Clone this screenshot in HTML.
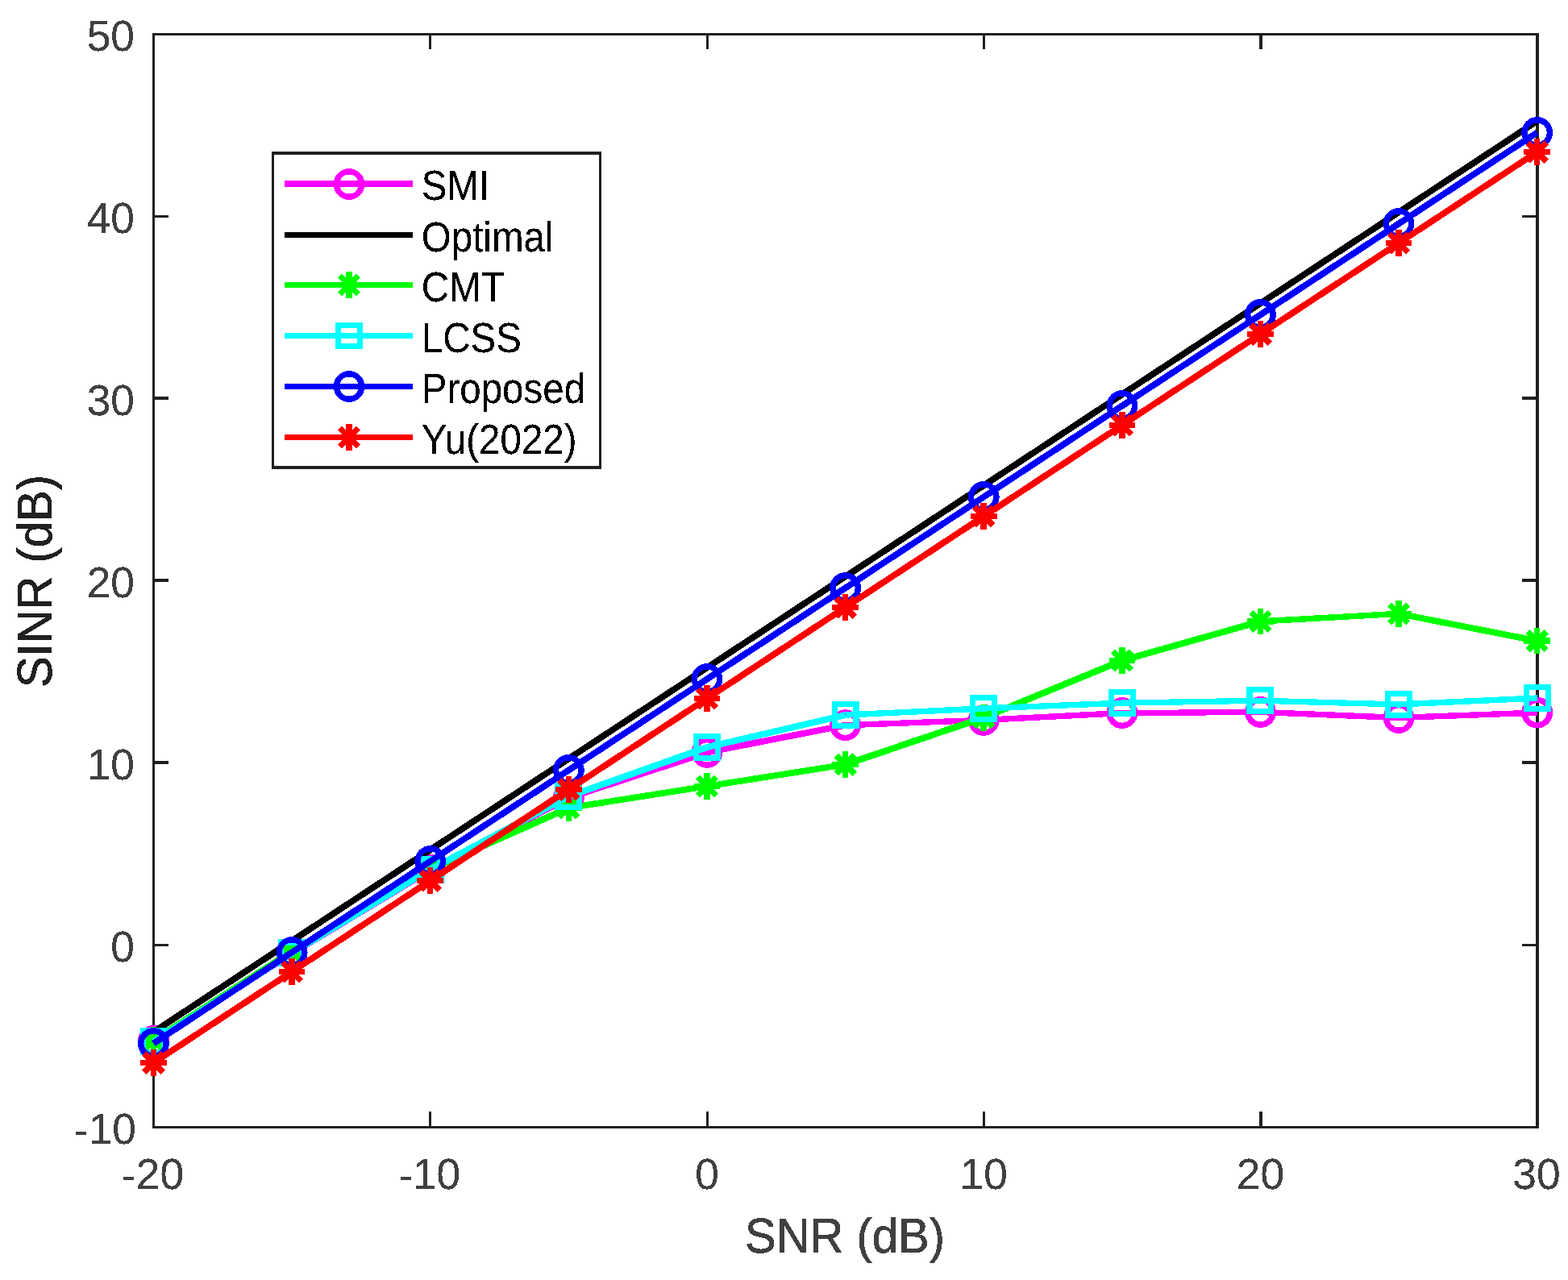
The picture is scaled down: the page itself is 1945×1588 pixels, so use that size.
<!DOCTYPE html>
<html lang="en">
<head>
<meta charset="utf-8">
<title>SINR versus SNR</title>
<style>
html,body{margin:0;padding:0;background:#fff;overflow:hidden;}
body{width:1945px;height:1588px;overflow:hidden;}
svg{display:block;}
text{font-family:"Liberation Sans",sans-serif;}
.tick{font-size:53.3px;fill:#404040;}
.lab{font-size:58px;fill:#404040;stroke:#404040;stroke-width:0.45px;stroke-linejoin:miter;}
.leg{font-size:47.5px;fill:#000;}
</style>
</head>
<body>
<svg width="1945" height="1588" viewBox="0 0 1945 1588">
<defs>
<filter id="hard" x="-5%" y="-20%" width="110%" height="140%" color-interpolation-filters="sRGB">
<feComponentTransfer><feFuncA type="discrete" tableValues="0 0 1 1 1"/></feComponentTransfer>
</filter>
</defs>
<rect x="0" y="0" width="1945" height="1588" fill="#ffffff"/>
<g fill="#202020" shape-rendering="crispEdges">
<rect x="189" y="41" width="1720" height="3"/>
<rect x="189" y="1397" width="1720" height="3"/>
<rect x="189" y="41" width="3" height="1359"/>
<rect x="1905" y="41" width="4" height="1359"/>
<rect x="532" y="1379" width="3" height="19"/>
<rect x="532" y="43" width="3" height="18"/>
<rect x="876" y="1379" width="3" height="19"/>
<rect x="876" y="43" width="3" height="18"/>
<rect x="1219" y="1379" width="3" height="19"/>
<rect x="1219" y="43" width="3" height="18"/>
<rect x="1562" y="1379" width="4" height="19"/>
<rect x="1562" y="43" width="4" height="18"/>
<rect x="191" y="267" width="18" height="3"/>
<rect x="1888" y="267" width="18" height="3"/>
<rect x="191" y="492" width="18" height="4"/>
<rect x="1888" y="492" width="18" height="4"/>
<rect x="191" y="718" width="18" height="4"/>
<rect x="1888" y="718" width="18" height="4"/>
<rect x="191" y="944" width="18" height="4"/>
<rect x="1888" y="944" width="18" height="4"/>
<rect x="191" y="1171" width="18" height="3"/>
<rect x="1888" y="1171" width="18" height="3"/>
</g>
<g class="tick" text-anchor="middle" filter="url(#hard)">
<text transform="translate(189.5 1475) scale(1 1.02)"><tspan dy="0.9">-</tspan><tspan dy="-0.9">20</tspan></text>
<text transform="translate(532.74 1475) scale(1 1.02)"><tspan dy="0.9">-</tspan><tspan dy="-0.9">10</tspan></text>
<text transform="translate(876.98 1475) scale(1 1.02)">0</text>
<text transform="translate(1220.22 1475) scale(1 1.02)">10</text>
<text transform="translate(1563.46 1475) scale(1 1.02)">20</text>
<text transform="translate(1905.9 1475) scale(1 1.02)">30</text>
</g>
<g class="tick" text-anchor="end" filter="url(#hard)">
<text transform="translate(169 1418.7) scale(1 1.02)"><tspan dy="0.9">-</tspan><tspan dy="-0.9">10</tspan></text>
<text transform="translate(167 1192.7) scale(1 1.02)">0</text>
<text transform="translate(167 966.7) scale(1 1.02)">10</text>
<text transform="translate(167 740.7) scale(1 1.02)">20</text>
<text transform="translate(167 514.7) scale(1 1.02)">30</text>
<text transform="translate(167 288.7) scale(1 1.02)">40</text>
<text transform="translate(167 62.7) scale(1 1.02)">50</text>
</g>
<g class="lab" text-anchor="middle" filter="url(#hard)">
<text transform="translate(1048 1554) scale(1 1.04)">SNR (dB)</text>
<text style="fill:#212121;stroke:#212121" transform="translate(64 721) rotate(-90) scale(1 1.04)">SINR (dB)</text>
</g>
<g shape-rendering="crispEdges" fill="none" stroke-linejoin="miter" stroke-linecap="butt">
<polyline points="190.5,1291.38 362.12,1182.9 533.74,1079.39" stroke="#ff00ff" stroke-width="7.98"/>
<polyline points="533.74,1079.39 705.36,989.67 876.98,933.39" stroke="#ff00ff" stroke-width="8.12"/>
<polyline points="876.98,933.39 1048.6,899.72" stroke="#ff00ff" stroke-width="7.91"/>
<polyline points="1048.6,899.72 1220.22,893.39" stroke="#ff00ff" stroke-width="7.37"/>
<polyline points="1220.22,893.39 1391.84,884.58" stroke="#ff00ff" stroke-width="7.43"/>
<polyline points="1391.84,884.58 1563.46,883.45" stroke="#ff00ff" stroke-width="7.23"/>
<polyline points="1563.46,883.45 1735.08,890.45 1906.7,884.12" stroke="#ff00ff" stroke-width="7.38"/>
<circle cx="190.5" cy="1291.38" r="15.7" stroke="#ff00ff" stroke-width="7.4"/>
<circle cx="362.12" cy="1182.9" r="15.7" stroke="#ff00ff" stroke-width="7.4"/>
<circle cx="533.74" cy="1079.39" r="15.7" stroke="#ff00ff" stroke-width="7.4"/>
<circle cx="705.36" cy="989.67" r="15.7" stroke="#ff00ff" stroke-width="7.4"/>
<circle cx="876.98" cy="933.39" r="15.7" stroke="#ff00ff" stroke-width="7.4"/>
<circle cx="1048.6" cy="899.72" r="15.7" stroke="#ff00ff" stroke-width="7.4"/>
<circle cx="1220.22" cy="893.39" r="15.7" stroke="#ff00ff" stroke-width="7.4"/>
<circle cx="1391.84" cy="884.58" r="15.7" stroke="#ff00ff" stroke-width="7.4"/>
<circle cx="1563.46" cy="883.45" r="15.7" stroke="#ff00ff" stroke-width="7.4"/>
<circle cx="1735.08" cy="890.45" r="15.7" stroke="#ff00ff" stroke-width="7.4"/>
<circle cx="1906.7" cy="884.12" r="15.7" stroke="#ff00ff" stroke-width="7.4"/>
<polyline points="190.5,1280.3 362.12,1167.3 533.74,1054.3 705.36,941.3 876.98,828.3 1048.6,715.3 1220.22,602.3 1391.84,489.3 1563.46,376.3 1735.08,263.3 1906.7,150.3" stroke="#000000" stroke-width="7.93"/>
<polyline points="190.5,1290.47 362.12,1180.18" stroke="#00ff00" stroke-width="7.96"/>
<polyline points="362.12,1180.18 533.74,1078.71" stroke="#00ff00" stroke-width="8.04"/>
<polyline points="533.74,1078.71 705.36,1002.32" stroke="#00ff00" stroke-width="8.16"/>
<polyline points="705.36,1002.32 876.98,975.43 1048.6,948.53" stroke="#00ff00" stroke-width="7.8"/>
<polyline points="1048.6,948.53 1220.22,890.23 1391.84,819.49" stroke="#00ff00" stroke-width="8.14"/>
<polyline points="1391.84,819.49 1563.46,770.9" stroke="#00ff00" stroke-width="8.08"/>
<polyline points="1563.46,770.9 1735.08,761.41" stroke="#00ff00" stroke-width="7.44"/>
<polyline points="1735.08,761.41 1906.7,795.08" stroke="#00ff00" stroke-width="7.91"/>
<path d="M174.2 1290.47H206.8M190.5 1274.17V1306.77M178.97 1278.95L202.03 1302M178.97 1302L202.03 1278.95" stroke="#00ff00" stroke-width="7.5"/>
<path d="M345.82 1180.18H378.42M362.12 1163.88V1196.48M350.59 1168.66L373.65 1191.71M350.59 1191.71L373.65 1168.66" stroke="#00ff00" stroke-width="7.5"/>
<path d="M517.44 1078.71H550.04M533.74 1062.41V1095.01M522.21 1067.18L545.27 1090.24M522.21 1090.24L545.27 1067.18" stroke="#00ff00" stroke-width="7.5"/>
<path d="M689.06 1002.32H721.66M705.36 986.02V1018.62M693.83 990.8L716.89 1013.85M693.83 1013.85L716.89 990.8" stroke="#00ff00" stroke-width="7.5"/>
<path d="M860.68 975.43H893.28M876.98 959.13V991.73M865.45 963.9L888.51 986.95M865.45 986.95L888.51 963.9" stroke="#00ff00" stroke-width="7.5"/>
<path d="M1032.3 948.53H1064.9M1048.6 932.23V964.83M1037.07 937.01L1060.13 960.06M1037.07 960.06L1060.13 937.01" stroke="#00ff00" stroke-width="7.5"/>
<path d="M1203.92 890.23H1236.52M1220.22 873.93V906.53M1208.69 878.7L1231.75 901.75M1208.69 901.75L1231.75 878.7" stroke="#00ff00" stroke-width="7.5"/>
<path d="M1375.54 819.49H1408.14M1391.84 803.19V835.79M1380.31 807.96L1403.37 831.01M1380.31 831.01L1403.37 807.96" stroke="#00ff00" stroke-width="7.5"/>
<path d="M1547.16 770.9H1579.76M1563.46 754.6V787.2M1551.93 759.37L1574.99 782.42M1551.93 782.42L1574.99 759.37" stroke="#00ff00" stroke-width="7.5"/>
<path d="M1718.78 761.41H1751.38M1735.08 745.11V777.71M1723.55 749.88L1746.61 772.93M1723.55 772.93L1746.61 749.88" stroke="#00ff00" stroke-width="7.5"/>
<path d="M1890.4 795.08H1923M1906.7 778.78V811.38M1895.17 783.55L1918.23 806.61M1895.17 806.61L1918.23 783.55" stroke="#00ff00" stroke-width="7.5"/>
<polyline points="190.5,1292.28 362.12,1182.44" stroke="#00ffff" stroke-width="7.96"/>
<polyline points="362.12,1182.44 533.74,1078.71" stroke="#00ffff" stroke-width="8.02"/>
<polyline points="533.74,1078.71 705.36,988.08 876.98,927.06" stroke="#00ffff" stroke-width="8.11"/>
<polyline points="876.98,927.06 1048.6,887.06" stroke="#00ffff" stroke-width="7.99"/>
<polyline points="1048.6,887.06 1220.22,878.93 1391.84,872.15" stroke="#00ffff" stroke-width="7.41"/>
<polyline points="1391.84,872.15 1563.46,869.21 1735.08,873.95" stroke="#00ffff" stroke-width="7.28"/>
<polyline points="1735.08,873.95 1906.7,866.04" stroke="#00ffff" stroke-width="7.41"/>
<rect x="177.1" y="1278.88" width="26.8" height="26.8" stroke="#00ffff" stroke-width="7.2"/>
<rect x="348.72" y="1169.04" width="26.8" height="26.8" stroke="#00ffff" stroke-width="7.2"/>
<rect x="520.34" y="1065.31" width="26.8" height="26.8" stroke="#00ffff" stroke-width="7.2"/>
<rect x="691.96" y="974.68" width="26.8" height="26.8" stroke="#00ffff" stroke-width="7.2"/>
<rect x="863.58" y="913.66" width="26.8" height="26.8" stroke="#00ffff" stroke-width="7.2"/>
<rect x="1035.2" y="873.66" width="26.8" height="26.8" stroke="#00ffff" stroke-width="7.2"/>
<rect x="1206.82" y="865.53" width="26.8" height="26.8" stroke="#00ffff" stroke-width="7.2"/>
<rect x="1378.44" y="858.75" width="26.8" height="26.8" stroke="#00ffff" stroke-width="7.2"/>
<rect x="1550.06" y="855.81" width="26.8" height="26.8" stroke="#00ffff" stroke-width="7.2"/>
<rect x="1721.68" y="860.55" width="26.8" height="26.8" stroke="#00ffff" stroke-width="7.2"/>
<rect x="1893.3" y="852.64" width="26.8" height="26.8" stroke="#00ffff" stroke-width="7.2"/>
<polyline points="190.5,1294.54 362.12,1181.54 533.74,1068.54 705.36,955.54 876.98,842.54 1048.6,729.54 1220.22,616.54 1391.84,503.54 1563.46,390.54 1735.08,277.54 1906.7,164.54" stroke="#0000ff" stroke-width="7.93"/>
<circle cx="190.5" cy="1294.54" r="15.7" stroke="#0000ff" stroke-width="7.4"/>
<circle cx="362.12" cy="1181.54" r="15.7" stroke="#0000ff" stroke-width="7.4"/>
<circle cx="533.74" cy="1068.54" r="15.7" stroke="#0000ff" stroke-width="7.4"/>
<circle cx="705.36" cy="955.54" r="15.7" stroke="#0000ff" stroke-width="7.4"/>
<circle cx="876.98" cy="842.54" r="15.7" stroke="#0000ff" stroke-width="7.4"/>
<circle cx="1048.6" cy="729.54" r="15.7" stroke="#0000ff" stroke-width="7.4"/>
<circle cx="1220.22" cy="616.54" r="15.7" stroke="#0000ff" stroke-width="7.4"/>
<circle cx="1391.84" cy="503.54" r="15.7" stroke="#0000ff" stroke-width="7.4"/>
<circle cx="1563.46" cy="390.54" r="15.7" stroke="#0000ff" stroke-width="7.4"/>
<circle cx="1735.08" cy="277.54" r="15.7" stroke="#0000ff" stroke-width="7.4"/>
<circle cx="1906.7" cy="164.54" r="15.7" stroke="#0000ff" stroke-width="7.4"/>
<polyline points="190.5,1318.5 362.12,1205.5 533.74,1092.5 705.36,979.5 876.98,866.5 1048.6,753.5 1220.22,640.5 1391.84,527.5 1563.46,414.5 1735.08,301.5 1906.7,188.5" stroke="#ff0000" stroke-width="7.93"/>
<path d="M174.2 1318.5H206.8M190.5 1302.2V1334.8M178.97 1306.97L202.03 1330.02M178.97 1330.02L202.03 1306.97" stroke="#ff0000" stroke-width="7.5"/>
<path d="M345.82 1205.5H378.42M362.12 1189.2V1221.8M350.59 1193.97L373.65 1217.02M350.59 1217.02L373.65 1193.97" stroke="#ff0000" stroke-width="7.5"/>
<path d="M517.44 1092.5H550.04M533.74 1076.2V1108.8M522.21 1080.97L545.27 1104.02M522.21 1104.02L545.27 1080.97" stroke="#ff0000" stroke-width="7.5"/>
<path d="M689.06 979.5H721.66M705.36 963.2V995.8M693.83 967.97L716.89 991.02M693.83 991.02L716.89 967.97" stroke="#ff0000" stroke-width="7.5"/>
<path d="M860.68 866.5H893.28M876.98 850.2V882.8M865.45 854.97L888.51 878.02M865.45 878.02L888.51 854.97" stroke="#ff0000" stroke-width="7.5"/>
<path d="M1032.3 753.5H1064.9M1048.6 737.2V769.8M1037.07 741.97L1060.13 765.02M1037.07 765.02L1060.13 741.97" stroke="#ff0000" stroke-width="7.5"/>
<path d="M1203.92 640.5H1236.52M1220.22 624.2V656.8M1208.69 628.97L1231.75 652.02M1208.69 652.02L1231.75 628.97" stroke="#ff0000" stroke-width="7.5"/>
<path d="M1375.54 527.5H1408.14M1391.84 511.2V543.8M1380.31 515.97L1403.37 539.02M1380.31 539.02L1403.37 515.97" stroke="#ff0000" stroke-width="7.5"/>
<path d="M1547.16 414.5H1579.76M1563.46 398.2V430.8M1551.93 402.97L1574.99 426.02M1551.93 426.02L1574.99 402.97" stroke="#ff0000" stroke-width="7.5"/>
<path d="M1718.78 301.5H1751.38M1735.08 285.2V317.8M1723.55 289.97L1746.61 313.02M1723.55 313.02L1746.61 289.97" stroke="#ff0000" stroke-width="7.5"/>
<path d="M1890.4 188.5H1923M1906.7 172.2V204.8M1895.17 176.97L1918.23 200.02M1895.17 200.02L1918.23 176.97" stroke="#ff0000" stroke-width="7.5"/>
</g>
<g shape-rendering="crispEdges">
<rect x="337" y="188" width="409" height="394" fill="#202020"/>
<rect x="340" y="192" width="403" height="386" fill="#ffffff"/>
</g>
<g shape-rendering="crispEdges" fill="none" stroke-linecap="butt">
<path d="M353 228H512" stroke="#ff00ff" stroke-width="7.2"/>
<circle cx="433" cy="228.5" r="15.7" stroke="#ff00ff" stroke-width="7.4"/>
<path d="M353 291.5H512" stroke="#000000" stroke-width="7.2"/>
<path d="M353 353.5H512" stroke="#00ff00" stroke-width="7.2"/>
<path d="M416.7 353.5H449.3M433 337.2V369.8M421.47 341.97L444.53 365.03M421.47 365.03L444.53 341.97" stroke="#00ff00" stroke-width="7.5"/>
<path d="M353 416.5H512" stroke="#00ffff" stroke-width="7.2"/>
<rect x="419.6" y="403.1" width="26.8" height="26.8" stroke="#00ffff" stroke-width="7.2"/>
<path d="M353 479.5H512" stroke="#0000ff" stroke-width="7.2"/>
<circle cx="433" cy="479.5" r="15.7" stroke="#0000ff" stroke-width="7.4"/>
<path d="M353 542.5H512" stroke="#ff0000" stroke-width="7.2"/>
<path d="M416.7 542.5H449.3M433 526.2V558.8M421.47 530.97L444.53 554.03M421.47 554.03L444.53 530.97" stroke="#ff0000" stroke-width="7.5"/>
</g>
<g class="leg" filter="url(#hard)">
<text transform="translate(522.8 248) scale(1 1.075)">SMI</text>
<text transform="translate(522.8 311.5) scale(1 1.075)">Optimal</text>
<text transform="translate(522.8 373.5) scale(1 1.075)">CMT</text>
<text transform="translate(522.8 436.5) scale(1 1.075)">LCSS</text>
<text transform="translate(522.8 499.5) scale(1 1.075)">Proposed</text>
<text transform="translate(522.8 562.5) scale(1 1.075)">Yu(2022)</text>
</g>
</svg>
</body>
</html>
